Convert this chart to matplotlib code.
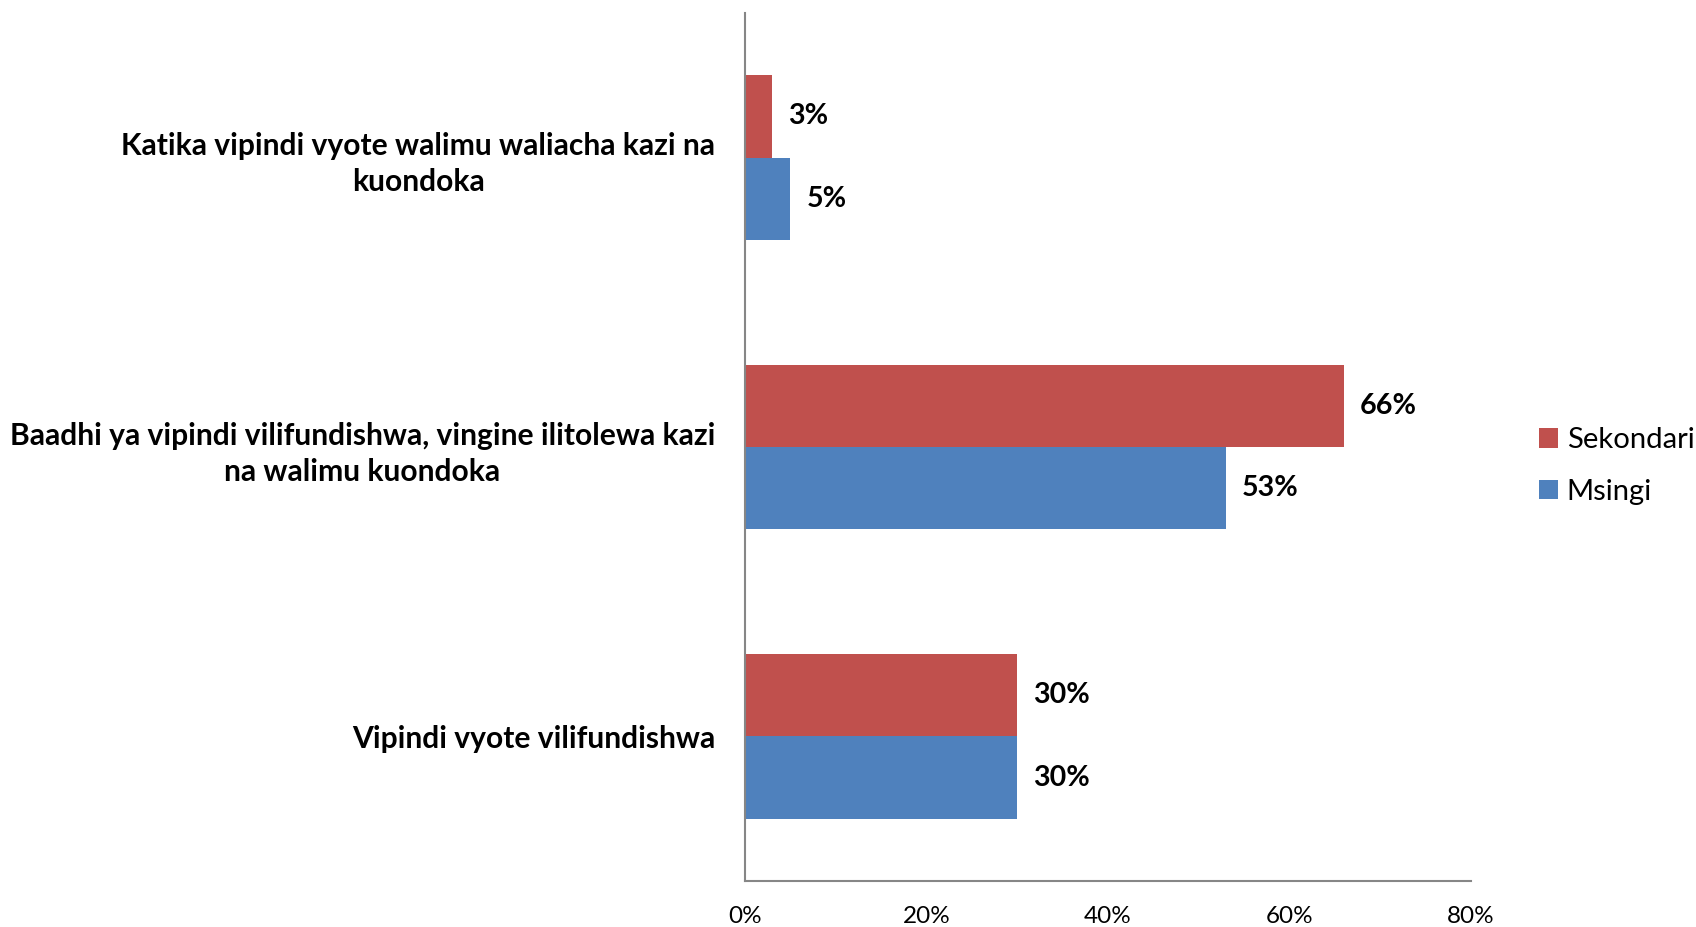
import matplotlib
matplotlib.use("Agg")
import matplotlib.pyplot as plt
import numpy as np

plt.rcParams['font.family'] = ['Lato', 'DejaVu Sans']

categories = [
    "Vipindi vyote vilifundishwa",
    "Baadhi ya vipindi vilifundishwa, vingine ilitolewa kazi\nna walimu kuondoka",
    "Katika vipindi vyote walimu waliacha kazi na\nkuondoka",
]
sekondari = [30, 66, 3]
msingi = [30, 53, 5]
series_names = ["Sekondari", "Msingi"]
xticks = [0, 20, 40, 60, 80]
xtick_labels = ["0%", "20%", "40%", "60%", "80%"]

red = "#C0504D"
blue = "#4F81BD"

fig = plt.figure(figsize=(16.96, 9.27), dpi=100)
ax = fig.add_axes([745/1696, 1 - 881/927, (1471-745)/1696, (881-13)/927])

y = np.arange(len(categories))
h = 0.285
b1 = ax.barh(y + h/2, sekondari, height=h, color=red, label=series_names[0])
b2 = ax.barh(y - h/2, msingi, height=h, color=blue, label=series_names[1])

for bars, vals in ((b1, sekondari), (b2, msingi)):
    for rect, v in zip(bars, vals):
        ax.annotate(f"{v}%", (rect.get_width(), rect.get_y() + rect.get_height()/2),
                    xytext=(11.5, 0), textcoords="offset points", ha="left", va="center",
                    fontsize=20.6, fontweight="bold", color="black")

ax.set_xlim(0, 80)
ax.set_ylim(-0.5, 2.5)
ax.set_xticks(xticks)
ax.set_xticklabels(xtick_labels, fontsize=17.5)
ax.set_yticks(y)
ax.set_yticklabels(categories, fontsize=21.6, fontweight="bold", multialignment="center",
                   linespacing=1.35)
ax.tick_params(axis="both", length=0)
ax.tick_params(axis="x", pad=18)
ax.tick_params(axis="y", pad=21.5)
for s in ("top", "right"):
    ax.spines[s].set_visible(False)
for s in ("left", "bottom"):
    ax.spines[s].set_color("#868686")
    ax.spines[s].set_linewidth(1.5)

leg = fig.legend(handles=[b1, b2], loc="center left", bbox_to_anchor=(1527/1696, 1 - 466/927),
                 frameon=False, fontsize=21.1, handlelength=0.66, handleheight=0.66,
                 handletextpad=0.3, labelspacing=0.88, borderaxespad=0)

fig.savefig("out.png", dpi=100)
